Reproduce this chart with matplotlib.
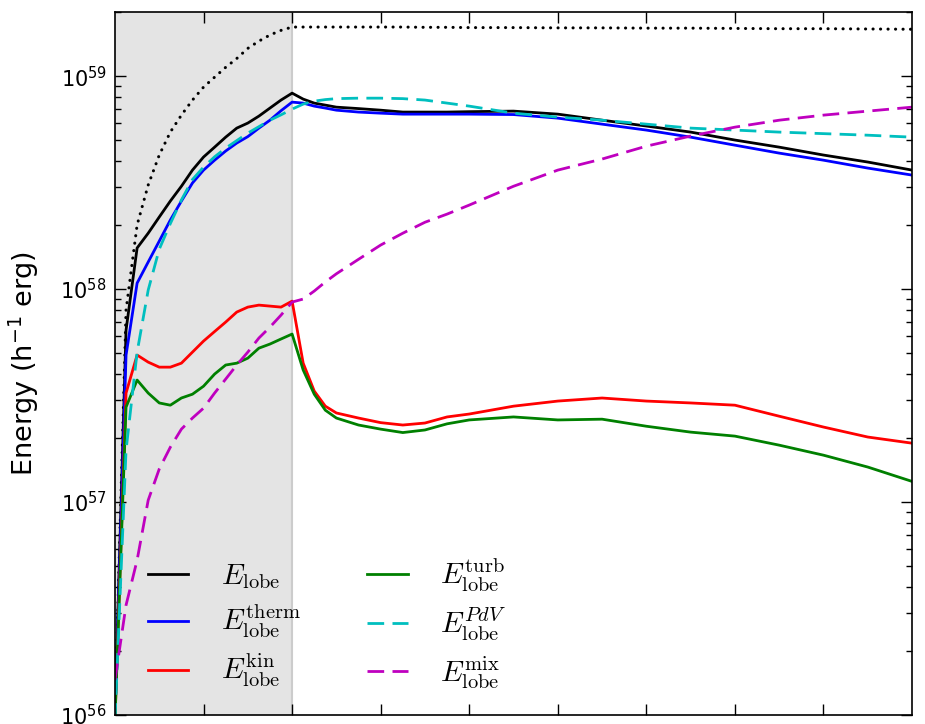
import numpy as np
import matplotlib
matplotlib.use("Agg")
import matplotlib.pyplot as plt
from matplotlib.font_manager import FontProperties

# time axis (arbitrary units, 0-90); jet active until t = 20
t = [0, 1.25, 2.5, 3.75, 5, 6.25, 7.5, 8.75, 10, 11.25, 12.5, 13.75, 15, 16.25, 17.5, 18.75, 20,
     21.25, 22.5, 23.75, 25, 27.5, 30, 32.5, 35, 37.5, 40, 45, 50, 55, 60, 65, 70, 75, 80, 85, 90]
t_jet_off = 20

# energies in units of 1e57 h^-1 erg
e_lobe = [0.1, 6.42, 15.6, 18.3, 21.8, 25.9, 30.4, 36.2, 41.7, 46.4, 51.7, 57.0, 60.2, 64.9, 70.8, 77.2, 83.2,
          78.0, 74.7, 73.1, 71.5, 70.4, 69.2, 67.8, 67.8, 67.8, 68.1, 68.5, 66.3, 62.1, 58.3, 54.6, 50.1, 46.4,
          42.6, 39.5, 36.2]
e_therm = [0.1, 4.90, 10.67, 13.4, 16.8, 21.1, 25.9, 31.5, 36.2, 40.3, 44.5, 48.5, 52.0, 57.0, 62.1, 68.8, 75.5,
           74.7, 72.3, 70.8, 69.2, 67.8, 67.0, 66.3, 66.3, 66.3, 66.3, 66.0, 63.5, 59.5, 55.8, 51.7, 47.4, 43.5,
           40.3, 37.0, 34.3]
e_kin = [0.095, 3.25, 4.90, 4.54, 4.30, 4.30, 4.49, 5.06, 5.70, 6.32, 7.00, 7.80, 8.23, 8.41, 8.32, 8.23, 8.78,
         4.49, 3.32, 2.82, 2.62, 2.48, 2.36, 2.30, 2.35, 2.51, 2.59, 2.82, 2.98, 3.08, 2.98, 2.92, 2.85, 2.53,
         2.25, 2.02, 1.89]
e_turb = [0.095, 2.79, 3.74, 3.25, 2.92, 2.85, 3.08, 3.21, 3.50, 3.99, 4.40, 4.49, 4.74, 5.28, 5.52, 5.83, 6.15,
          4.17, 3.21, 2.70, 2.48, 2.30, 2.20, 2.12, 2.18, 2.33, 2.43, 2.51, 2.43, 2.45, 2.27, 2.13, 2.04, 1.85,
          1.66, 1.46, 1.25]
e_pdv = [0.095, 1.75, 5.06, 9.89, 15.4, 20.3, 26.2, 32.7, 37.4, 41.8, 45.9, 49.8, 54.0, 57.9, 62.1, 65.8, 70.0,
         73.9, 76.3, 77.6, 78.4, 78.8, 78.8, 78.4, 77.2, 74.7, 72.3, 67.0, 64.2, 62.1, 59.5, 57.0, 55.8, 54.6,
         53.7, 52.8, 51.7]
e_mix = [0.146, 0.328, 0.534, 1.02, 1.43, 1.81, 2.20, 2.48, 2.76, 3.25, 3.78, 4.40, 5.06, 5.89, 6.63, 7.55, 8.69,
         8.98, 9.79, 10.8, 11.8, 13.8, 16.1, 18.3, 20.6, 22.5, 24.8, 30.4, 36.2, 40.8, 46.9, 52.3, 57.6, 62.1,
         65.6, 68.5, 71.5]
e_inj = [0.1, 7.97, 20.0, 30.8, 42.6, 54.6, 65.6, 77.2, 88.8, 98.9, 110, 121, 135, 146, 156, 164, 170,
         170, 170, 170, 170, 170, 170, 170, 169.5, 169.5, 169, 169, 168.5, 168.5, 168, 168, 167.5, 167, 167,
         166.5, 166]

labels = [r"$E_{\rm lobe}$", r"$E_{\rm lobe}^{\rm therm}$", r"$E_{\rm lobe}^{\rm kin}$",
          r"$E_{\rm lobe}^{\rm turb}$", r"$E_{\rm lobe}^{PdV}$", r"$E_{\rm lobe}^{\rm mix}$"]

plt.rcParams['lines.scale_dashes'] = False

fig = plt.figure(figsize=(9.25, 7.24), dpi=100)
ax = fig.add_axes([0.1243, 0.0124, 0.8617, 0.971])

ax.axvspan(0, t_jet_off, facecolor='#e4e4e4', edgecolor='none', zorder=0)
ax.axvline(t_jet_off, color='#cccccc', lw=1.5, zorder=0.5)

scale = 1e57
tt = np.array(t)
ax.plot(tt, np.array(e_inj) * scale, color='k', lw=2.2, dashes=(0.1, 5.3), dash_capstyle='round')
ax.plot(tt, np.array(e_lobe) * scale, color='k', lw=2, label=labels[0])
ax.plot(tt, np.array(e_therm) * scale, color='b', lw=2, label=labels[1])
ax.plot(tt, np.array(e_kin) * scale, color='r', lw=2, label=labels[2])
ax.plot(tt, np.array(e_turb) * scale, color='g', lw=2, label=labels[3])
ax.plot(tt, np.array(e_pdv) * scale, color='c', lw=2, dashes=(12, 6), label=labels[4])
ax.plot(tt, np.array(e_mix) * scale, color='m', lw=2, dashes=(12, 6), label=labels[5])

ax.set_yscale('log')
ax.set_xlim(0, 90)
ax.set_ylim(1e56, 2e59)
ax.set_xticks(np.arange(10, 90, 10))
ax.set_xticklabels([])
ax.tick_params(which='both', direction='in', top=True, right=True, width=1)
ax.tick_params(which='major', length=8, labelsize=15, pad=6)
ax.tick_params(which='minor', length=4)
for s in ax.spines.values():
    s.set_linewidth(1.2)

ax.set_ylabel(r"Energy (h$^{-1}$ erg)", fontsize=19.5)
ax.yaxis.set_label_coords(-0.093, 0.5)

leg = ax.legend(loc='lower left', bbox_to_anchor=(0.008, -0.003), ncol=2, frameon=False,
                prop=FontProperties(size=21, math_fontfamily='cm'),
                handlelength=1.4, handletextpad=1.1, columnspacing=2.3, labelspacing=0.4)

fig.savefig('out.png', dpi=100)
